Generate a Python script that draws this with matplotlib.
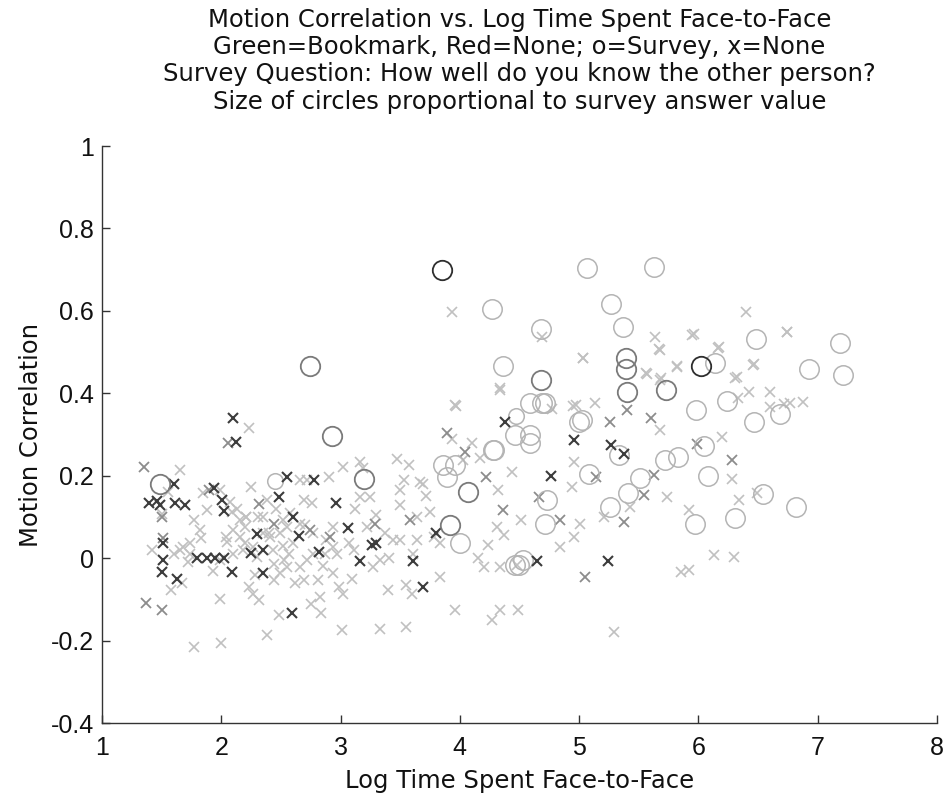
import matplotlib.pyplot as plt
import numpy as np

plt.rcParams['font.family'] = ['Liberation Sans', 'DejaVu Sans']

# --- data (grayscale; dark = red "None", light = green) ---
# dark crosses
dark_x = [2.10, 2.12, 1.60, 1.39, 1.46, 1.49, 1.61, 1.70, 1.94, 2.01, 2.02, 2.55, 2.78,
          2.48, 2.96, 2.60, 3.06, 2.65, 2.30, 1.51, 2.25, 2.35, 1.51, 1.80, 1.88, 1.95,
          2.02, 2.09, 1.50, 1.63, 2.35, 2.82, 3.16, 3.26, 3.30, 3.61, 3.69, 3.80, 4.38,
          4.96, 5.27, 5.38, 4.76, 4.65, 5.24, 2.59]
dark_y = [0.341, 0.283, 0.180, 0.134, 0.138, 0.130, 0.134, 0.130, 0.170, 0.140, 0.115,
          0.197, 0.190, 0.149, 0.133, 0.100, 0.072, 0.053, 0.058, 0.036, 0.013, 0.021,
          -0.005, 0.000, 0.000, 0.000, 0.000, -0.033, -0.033, -0.050, -0.036, 0.015,
          -0.007, 0.032, 0.036, -0.006, -0.070, 0.060, 0.330, 0.286, 0.274, 0.252,
          0.200, -0.006, -0.006, -0.134]

# medium crosses
mid_x = [1.35, 1.37, 1.50, 1.50, 1.51, 1.90, 2.06, 2.32, 2.44, 2.74, 2.91, 3.29, 3.58,
         3.89, 4.04, 4.22, 4.36, 5.26, 5.40, 5.60, 5.63, 5.54, 5.38, 4.84, 5.14, 4.66,
         5.05, 6.28, 5.99]
mid_y = [0.221, -0.108, -0.126, 0.100, 0.050, 0.165, 0.280, 0.132, 0.084, 0.068, 0.052,
         0.084, 0.092, 0.303, 0.258, 0.197, 0.116, 0.331, 0.359, 0.339, 0.201, 0.153,
         0.088, 0.092, 0.197, 0.149, -0.045, 0.238, 0.278]

# light crosses
light_x = [3.97, 4.34, 2.23, 3.93, 4.03, 4.17, 4.32, 4.31, 4.24, 4.15, 4.34, 4.48, 3.96,
           4.27, 4.49, 1.65, 1.50, 1.85, 1.99, 2.07, 2.09, 1.88, 2.25, 2.38, 2.31, 2.35,
           2.21, 2.20, 2.66, 2.72, 2.90, 3.02, 3.16, 3.19, 2.69, 3.16, 3.25, 3.30, 3.22,
           3.50, 3.53, 3.57, 3.50, 3.64, 3.67, 3.69, 3.75, 3.44, 3.50, 3.64, 3.78, 3.83,
           3.61, 3.83, 3.40, 3.55, 3.60, 3.55, 3.33, 3.01, 2.84, 2.48, 2.38, 2.00, 1.77,
           1.67, 1.58, 1.74, 1.65, 1.99, 2.10, 1.99, 2.23, 2.27, 2.32, 2.44, 2.49, 2.55,
           2.44, 2.53, 2.66, 2.72, 2.77, 2.69, 2.81, 2.83, 2.94, 2.99, 3.02, 2.88, 2.94,
           3.07, 3.11, 3.27, 3.33, 3.41, 2.66, 2.77, 2.52, 2.55, 2.49, 2.60, 2.16, 2.20,
           2.27, 2.30, 2.04, 2.10, 1.68, 1.74, 1.60, 1.77, 1.82, 2.16, 2.21, 2.35, 2.41,
           2.76, 2.94, 4.77, 4.97, 5.68, 6.20, 6.28, 5.74, 5.43, 5.21, 5.01, 4.96, 4.84,
           4.94, 4.96, 4.51, 4.37, 4.20, 5.85, 5.92, 6.13, 6.30, 4.34, 5.29, 5.92, 6.34,
           6.49, 6.42, 6.33, 6.60, 6.72, 3.93, 4.69, 5.03, 5.96, 5.68, 6.40, 6.74, 6.17,
           5.57, 5.68, 5.82, 6.46, 6.31, 4.34, 3.96, 6.60, 5.95, 6.74, 5.64, 5.67, 5.03,
           6.16, 6.47, 5.56, 5.69, 5.82, 6.32, 4.95, 5.13, 6.77, 6.88, 1.42, 1.55, 1.72,
           1.83, 2.13, 2.43, 2.58, 2.87, 3.12, 3.37, 3.47, 3.72, 4.10, 4.44, 2.18, 2.28,
           2.40, 2.52, 2.62, 2.70, 2.85, 2.97, 3.10, 2.05, 1.93, 2.46, 2.57, 2.75]
light_y = [0.369, 0.408, 0.315, 0.290, 0.238, 0.242, 0.165, 0.076, 0.032, 0.000, -0.021,
           -0.017, -0.126, -0.150, -0.126, 0.214, 0.108, 0.157, 0.165, 0.137, 0.113, 0.117,
           0.173, 0.140, 0.100, 0.100, 0.100, 0.076, 0.190, 0.190, 0.197, 0.220, 0.234,
           0.218, 0.140, 0.149, 0.149, 0.104, 0.076, 0.165, 0.190, 0.226, 0.128, 0.100,
           0.185, 0.180, 0.112, 0.044, 0.044, 0.044, 0.052, 0.036, 0.011, -0.045, -0.078,
           -0.065, -0.086, -0.167, -0.171, -0.175, -0.134, -0.138, -0.187, -0.207, -0.215,
           -0.061, -0.078, 0.011, 0.019, -0.005, 0.011, -0.098, -0.070, -0.086, -0.102,
           -0.053, -0.037, -0.021, -0.013, -0.005, -0.021, -0.005, 0.011, -0.053, -0.053,
           -0.094, -0.037, -0.070, -0.086, 0.044, 0.028, 0.036, 0.019, -0.021, -0.005,
           0.000, 0.084, 0.060, 0.092, 0.076, 0.060, 0.036, 0.052, 0.036, 0.028, 0.003,
           0.052, 0.068, 0.028, 0.036, 0.011, 0.092, 0.068, 0.092, 0.100, 0.060, 0.052,
           0.133, 0.076, 0.363, 0.371, 0.311, 0.294, 0.193, 0.149, 0.125, 0.100, 0.084,
           0.052, 0.028, 0.173, 0.234, 0.092, 0.056, -0.021, -0.033, -0.029, 0.007, 0.003,
           -0.126, -0.179, 0.116, 0.141, 0.157, 0.404, 0.388, 0.367, 0.375, 0.598, 0.537,
           0.485, 0.545, 0.505, 0.598, 0.549, 0.513, 0.448, 0.432, 0.464, 0.468, 0.436,
           0.412, 0.371, 0.404, 0.541, 0.548, 0.536, 0.507, 0.485, 0.510, 0.470, 0.449,
           0.437, 0.466, 0.440, 0.370, 0.376, 0.376, 0.380, 0.020, 0.160, -0.010, 0.050,
           0.120, 0.020, 0.110, 0.010, 0.120, 0.060, 0.240, 0.150, 0.280, 0.210, 0.020,
           -0.040, 0.060, 0.030, -0.060, 0.080, -0.020, 0.010, -0.050, 0.040, -0.030,
           0.120, 0.010, -0.110]

# survey circles: position, survey answer, tone (0 light, 1 medium, 2 dark)
circ_x = [3.85, 6.02, 1.49, 2.93, 2.74, 4.07, 3.92, 5.39, 5.39, 5.40, 5.73, 4.68, 3.20,
          2.45, 4.27, 4.36, 5.07, 5.63, 5.27, 4.68, 5.37, 6.48, 7.19, 6.14, 6.93, 7.21,
          4.69, 5.98, 6.24, 4.59, 4.71, 5.02, 5.00, 4.47, 4.46, 4.59, 4.59, 4.29, 3.86,
          3.96, 3.89, 4.73, 5.33, 5.51, 5.41, 5.26, 5.08, 5.72, 5.83, 6.05, 6.08, 6.82,
          6.54, 6.31, 5.97, 4.71, 6.47, 6.68, 4.53, 4.50, 4.00, 4.28, 4.46]
circ_y = [0.700, 0.466, 0.180, 0.296, 0.466, 0.161, 0.080, 0.485, 0.460, 0.404, 0.408,
          0.432, 0.191, 0.188, 0.604, 0.466, 0.705, 0.706, 0.617, 0.557, 0.560, 0.532,
          0.523, 0.473, 0.460, 0.444, 0.376, 0.360, 0.381, 0.376, 0.376, 0.335, 0.330,
          0.345, 0.300, 0.300, 0.280, 0.262, 0.226, 0.226, 0.197, 0.142, 0.250, 0.195,
          0.158, 0.123, 0.204, 0.238, 0.245, 0.273, 0.200, 0.123, 0.155, 0.097, 0.083,
          0.082, 0.330, 0.350, -0.005, -0.017, 0.037, 0.262, -0.017]
circ_ans = [5, 5, 5, 5, 5, 5, 5, 5, 5, 5, 5, 5, 5,
            4, 5, 5, 5, 5, 5, 5, 5, 5, 5, 5, 5, 5,
            5, 5, 5, 5, 5, 5, 5, 4, 5, 5, 5, 5, 5,
            5, 5, 5, 5, 5, 5, 5, 5, 5, 5, 5, 5, 5,
            5, 5, 5, 5, 5, 5, 5, 5, 5, 5, 5]
circ_tone = [2, 2, 1, 1, 1, 1, 1, 1, 1, 1, 1, 1, 1,
             0, 0, 0, 0, 0, 0, 0, 0, 0, 0, 0, 0, 0,
             0, 0, 0, 0, 0, 0, 0, 0, 0, 0, 0, 0, 0,
             0, 0, 0, 0, 0, 0, 0, 0, 0, 0, 0, 0, 0,
             0, 0, 0, 0, 0, 0, 0, 0, 0, 0, 0]

tone_colors = ['#b4b4b4', '#7a7a7a', '#2e2e2e']

fig = plt.figure(figsize=(9.46, 7.97), dpi=100)
ax = fig.add_axes([0.1078, 0.0928, 0.8827, 0.724])

ax.plot(light_x, light_y, 'x', color='#c0c0c0', markersize=7.5, markeredgewidth=1.2, zorder=2)
ax.plot(mid_x, mid_y, 'x', color='#8c8c8c', markersize=7.5, markeredgewidth=1.3, zorder=3)
ax.plot(dark_x, dark_y, 'x', color='#3c3c3c', markersize=7.5, markeredgewidth=1.5, zorder=4)

for cx, cy, a, t in zip(circ_x, circ_y, circ_ans, circ_tone):
    ax.plot(cx, cy, 'o', markerfacecolor='none', markeredgecolor=tone_colors[t],
            markersize=a * 2.8, markeredgewidth=1.3 if t else 1.1, zorder=3 + t)

ax.set_xlim(1, 8)
ax.set_ylim(-0.4, 1)
ax.set_xticks(np.arange(1, 9))
ax.set_yticks([-0.4, -0.2, 0, 0.2, 0.4, 0.6, 0.8, 1])
ax.set_yticklabels(['-0.4', '-0.2', '0', '0.2', '0.4', '0.6', '0.8', '1'])

ax.spines['top'].set_visible(False)
ax.spines['right'].set_visible(False)
for s in ['left', 'bottom']:
    ax.spines[s].set_color('#333333')
    ax.spines[s].set_linewidth(1.0)
ax.tick_params(direction='in', length=6, width=1.0, color='#333333',
               labelsize=18, labelcolor='#111111')
ax.tick_params(axis='x', pad=9)
ax.tick_params(axis='y', pad=6)

wide = ['DejaVu Sans']
ax.set_xlabel('Log Time Spent Face-to-Face', fontsize=17.5, family=wide,
              color='#111111', labelpad=7)
ax.set_ylabel('Motion Correlation', fontsize=17.5, family=wide,
              color='#111111', labelpad=5)
ax.set_title('Motion Correlation vs. Log Time Spent Face-to-Face\n'
             'Green=Bookmark, Red=None; o=Survey, x=None\n'
             'Survey Question: How well do you know the other person?\n'
             'Size of circles proportional to survey answer value',
             fontsize=17.5, family=wide, color='#111111', pad=27, linespacing=1.16)

fig.savefig('out.png', dpi=100, facecolor='white')
